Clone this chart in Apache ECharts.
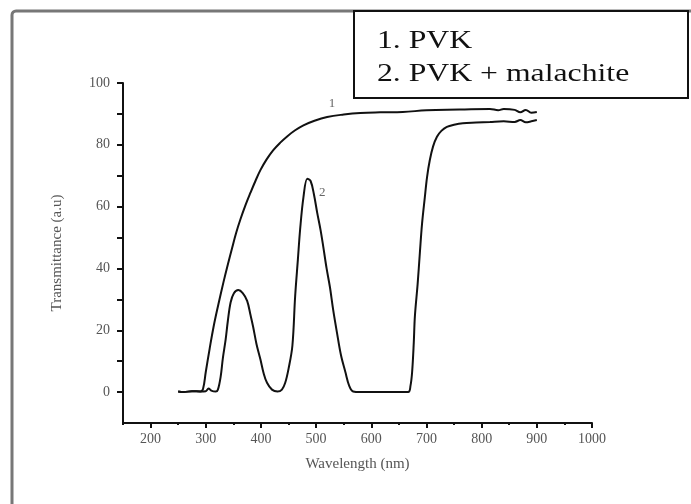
<!DOCTYPE html>
<html>
<head>
<meta charset="utf-8">
<script src="https://cdn.jsdelivr.net/npm/echarts@6/dist/echarts.min.js"></script>
<style>
  html, body { margin: 0; padding: 0; background: #fff; }
  #chart { width: 691px; height: 504px; }
</style>
</head>
<body>
<div id="chart"></div>
<script>
// Transmittance spectra, wavelength in nm
const pvkWavelength = [250, 260, 275, 290, 295, 300, 307, 314, 323, 332, 340, 348, 355, 363, 372, 381, 390, 399, 410, 422, 435, 448, 462, 477, 497, 520, 550, 580, 616, 657, 700, 760, 815, 830, 840, 860, 870, 880, 890, 900];
const pvkTransmittance = [0.2, 0, 0.3, 0.2, 1, 6.5, 14, 21, 28.5, 35.5, 41.3, 46.8, 51.5, 56, 60.5, 64.5, 68.3, 71.8, 75.2, 78.2, 80.7, 82.8, 84.7, 86.3, 87.8, 89, 89.8, 90.3, 90.5, 90.6, 91.2, 91.4, 91.6, 91.2, 91.6, 91.3, 90.5, 91.3, 90.4, 90.6];

const mixWavelength = [250, 260, 275, 290, 300, 305, 310, 318, 322, 327, 331, 336, 340, 345, 351, 359, 367, 375, 381, 386, 392, 399, 405, 411, 420, 430, 438, 444, 450, 457, 462, 467, 471, 477, 484, 490, 496, 502, 508, 513, 519, 525, 531, 538, 545, 553, 560, 567, 580, 620, 667, 671, 674, 677, 679, 684, 688, 692, 697, 701, 706, 712, 719, 727, 737, 750, 766, 790, 815, 840, 860, 870, 880, 890, 900];
const mixTransmittance = [0.2, 0, 0.3, 0.2, 0.3, 1.2, 0.5, 0.2, 0.8, 5, 11, 17, 23, 29, 32, 33, 32, 29.5, 25, 21, 15.5, 10.6, 6, 3, 0.8, 0.2, 0.8, 3, 7.5, 15, 31, 43, 52.6, 63, 69, 68.3, 64, 58, 52.5, 47, 40, 34, 26.5, 19, 12, 6.5, 2, 0.2, 0, 0, 0, 2, 6.5, 16, 24.5, 35, 45, 54.5, 63, 69.5, 75, 79.5, 82.6, 84.5, 85.8, 86.5, 87, 87.2, 87.4, 87.6, 87.4, 88, 87.3, 87.6, 88];

// Axis ticks and labels
const xMajorTicks = [200, 300, 400, 500, 600, 700, 800, 900, 1000];
const xMinorTicks = [150, 250, 350, 450, 550, 650, 750, 850, 950];
const yTicks = [0, 10, 20, 30, 40, 50, 60, 70, 80, 90, 100];
const yLabels = [0, 20, 40, 60, 80, 100];

const legendLines = ['1. PVK', '2. PVK + malachite'];
const curveTags = [
  { text: '1', coord: [529, 93.5] },
  { text: '2', coord: [511, 64.5] }
];

const serif = '"Liberation Serif", "DejaVu Serif", serif';
const pairs = (xs, ys) => xs.map((x, i) => [x, ys[i]]);
const plain = v => String(v);

const chart = echarts.init(document.getElementById('chart'), null, { renderer: 'canvas' });

const lineStyle = { color: '#111', width: 2 };

chart.setOption({
  backgroundColor: '#fff',
  animation: false,
  grid: { left: 123, right: 99, top: 83, bottom: 81 },
  xAxis: [
    {
      type: 'value', min: 150, max: 1000, interval: 50,
      name: 'Wavelength (nm)', nameLocation: 'middle', nameGap: 34,
      nameTextStyle: { fontFamily: serif, fontSize: 15, color: '#555' },
      axisLine: { onZero: false, lineStyle: { color: '#111', width: 2 } },
      axisTick: { customValues: xMajorTicks, length: 5, lineStyle: { color: '#111', width: 2 } },
      axisLabel: { customValues: xMajorTicks, formatter: plain, margin: 9, fontFamily: serif, fontSize: 14, color: '#555' },
      splitLine: { show: false }
    },
    {
      type: 'value', min: 150, max: 1000, interval: 50, position: 'bottom',
      axisLine: { show: false, onZero: false },
      axisTick: { customValues: xMinorTicks, length: 2, lineStyle: { color: '#111', width: 2 } },
      axisLabel: { show: false },
      splitLine: { show: false }
    }
  ],
  yAxis: {
    type: 'value', min: -10, max: 100, interval: 10,
    name: 'Transmittance (a.u)', nameLocation: 'middle', nameGap: 58,
    nameTextStyle: { fontFamily: serif, fontSize: 15, color: '#555' },
    axisLine: { show: true, onZero: false, lineStyle: { color: '#111', width: 2 } },
    axisTick: { show: true, customValues: yTicks, length: 6, lineStyle: { color: '#111', width: 2 } },
    axisLabel: { customValues: yLabels, formatter: plain, margin: 13, fontFamily: serif, fontSize: 14, color: '#555' },
    splitLine: { show: false }
  },
  series: [
    {
      name: legendLines[0], type: 'line', xAxisIndex: 0,
      data: pairs(pvkWavelength, pvkTransmittance),
      showSymbol: false, smooth: 0.4, lineStyle: lineStyle,
      markPoint: {
        symbol: 'circle', symbolSize: 0,
        label: { show: true, formatter: curveTags[0].text, fontFamily: serif, fontSize: 13, color: '#666' },
        data: [{ coord: curveTags[0].coord }]
      }
    },
    {
      name: legendLines[1], type: 'line', xAxisIndex: 0,
      data: pairs(mixWavelength, mixTransmittance),
      showSymbol: false, smooth: 0.35, lineStyle: lineStyle,
      markPoint: {
        symbol: 'circle', symbolSize: 0,
        label: { show: true, formatter: curveTags[1].text, fontFamily: serif, fontSize: 13, color: '#666' },
        data: [{ coord: curveTags[1].coord }]
      }
    }
  ],
  graphic: [
    {
      // outer frame around the figure
      type: 'rect', z: 0, silent: true,
      shape: { x: 12, y: 11, width: 800, height: 600, r: 4 },
      style: { fill: 'none', stroke: '#777', lineWidth: 3 }
    },
    {
      type: 'rect', z: 10, silent: true,
      shape: { x: 354, y: 11, width: 334, height: 87 },
      style: { fill: '#fff', stroke: '#111', lineWidth: 2 }
    },
    {
      type: 'text', z: 11, silent: true, x: 377, y: 41, scaleX: 1.22,
      style: { text: legendLines[0], fontFamily: serif, fontSize: 26, fill: '#111', verticalAlign: 'middle', align: 'left' }
    },
    {
      type: 'text', z: 11, silent: true, x: 377, y: 74, scaleX: 1.22,
      style: { text: legendLines[1], fontFamily: serif, fontSize: 26, fill: '#111', verticalAlign: 'middle', align: 'left' }
    }
  ]
});
</script>
</body>
</html>
